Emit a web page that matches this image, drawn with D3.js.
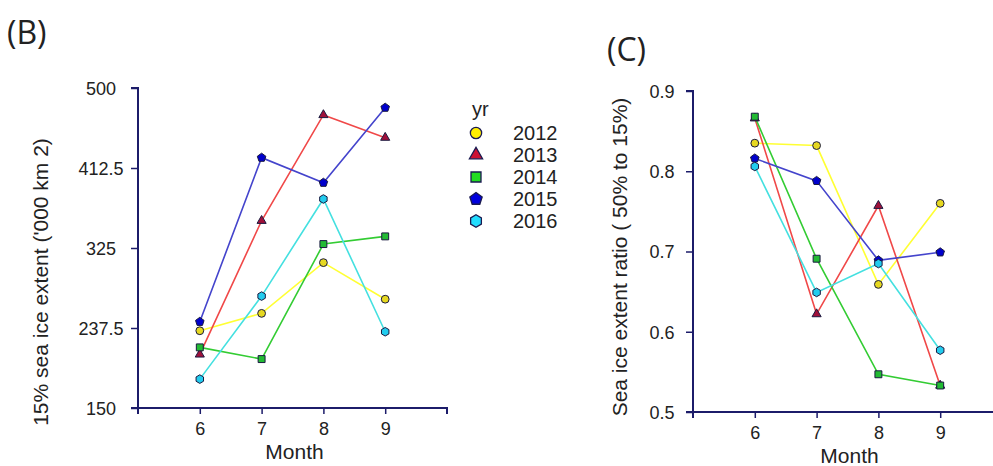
<!DOCTYPE html>
<html><head><meta charset="utf-8">
<script src="https://cdn.jsdelivr.net/npm/d3@7"></script>
<style>body{margin:0;background:#fff}svg{display:block}text{font-family:"Liberation Sans",Arial,sans-serif;fill:#222}</style>
</head><body><svg id="c" width="993" height="466"></svg>
<script>
const months = [6, 7, 8, 9];
const years = ["2012", "2013", "2014", "2015", "2016"];
const extentB = {
  "2012": [234.5, 253.5, 309, 269],
  "2013": [208.6, 354.8, 470.5, 445.7],
  "2014": [216.3, 203.5, 329.3, 337.7],
  "2015": [244.3, 423.8, 396.4, 478.5],
  "2016": [181.6, 272.4, 378.6, 233.4]
};
const ratioC = {
  "2012": [0.835, 0.832, 0.659, 0.760],
  "2013": [0.866, 0.622, 0.757, 0.533],
  "2014": [0.868, 0.691, 0.547, 0.533],
  "2015": [0.816, 0.788, 0.689, 0.699],
  "2016": [0.806, 0.649, 0.685, 0.577]
};
const ticksB = [150, 237.5, 325, 412.5, 500];
const ticksC = [0.5, 0.6, 0.7, 0.8, 0.9];

const lineColor = {"2012":"#ffff33","2013":"#f04848","2014":"#33cc33","2015":"#4444cc","2016":"#44e0e0"};
const markFill = {"2012":"#e6d820","2013":"#a0103a","2014":"#22bb33","2015":"#0000cc","2016":"#22ccee"};
const legFill = {"2012":"#ffee00","2013":"#cc1133","2014":"#22dd22","2015":"#0000dd","2016":"#22ddff"};

function polygon(n, rot){
  return {draw(ctx, size){
    const r = Math.sqrt(size/ (n*0.5*Math.sin(2*Math.PI/n)));
    for(let i=0;i<n;i++){const a=rot+i*2*Math.PI/n;const x=r*Math.sin(a),y=-r*Math.cos(a);i?ctx.lineTo(x,y):ctx.moveTo(x,y);}
    ctx.closePath();}};
}
const shapes = {"2012":d3.symbolCircle,"2013":d3.symbolTriangle,"2014":d3.symbolSquare,"2015":polygon(5,0),"2016":polygon(6,0)};

const svg = d3.select("#c");
const axisCol = "#1c1c6a";

function panel(cfg){
  const x = d3.scaleLinear().domain([5,10]).range([cfg.x0, cfg.x0 + 309]);
  const y = d3.scaleLinear().domain(cfg.dom).range([cfg.yb, cfg.yt]);
  const g = svg.append("g");
  const ya = g.append("g").attr("transform",`translate(${cfg.x0},0)`).call(d3.axisLeft(y).tickValues(cfg.ticks).tickSize(7).tickFormat(d=>d));
  const xa = g.append("g").attr("transform",`translate(0,${cfg.yb})`).call(d3.axisBottom(x).tickValues(months).tickSize(6).tickFormat(d=>d));
  [ya,xa].forEach(a=>{a.select(".domain").attr("stroke",axisCol).attr("stroke-width",2);
    a.selectAll(".tick line").attr("stroke",axisCol).attr("stroke-width",1.5);
    a.selectAll("text").attr("fill","#222").style("font-size","18px").style("font-family","Liberation Sans, Arial, sans-serif");});
  xa.select(".domain").attr("d",`M${x(5)},6V0H${x(10)}V6`);
  ya.select(".domain").attr("d",`M-7,${y(cfg.dom[1])}H0V${cfg.yb}H-7`);
  ya.selectAll(".tick text").attr("text-anchor","middle").attr("x",cfg.labX - cfg.x0).attr("dy","0.35em");
  xa.selectAll(".tick text").attr("y",14);
  const line = d3.line().x((d,i)=>x(months[i])).y(d=>y(d));
  years.forEach(yr=>{
    g.append("path").attr("d",line(cfg.data[yr])).attr("fill","none").attr("stroke",lineColor[yr]).attr("stroke-width",1.6);
  });
  years.forEach(yr=>{
    g.selectAll(null).data(cfg.data[yr]).join("path")
      .attr("transform",(d,i)=>`translate(${x(months[i])},${y(d)})`)
      .attr("d",d3.symbol().type(shapes[yr]).size(yr==="2013"?36:48))
      .attr("fill",markFill[yr]).attr("stroke","#1a1a40").attr("stroke-width",1);
  });
  g.append("text").attr("x",x(7.5)+2).attr("y",cfg.yb+51).attr("text-anchor","middle").style("font-size","21px").text("Month");
  g.append("text").attr("transform",`translate(${cfg.ylabX},${cfg.ylabY}) rotate(-90)`).attr("text-anchor","middle").style("font-size","21px").text(cfg.ylab);
  g.append("text").attr("x",cfg.tx).attr("y",cfg.ty).style("font-size","32px").style("font-family","Open Sans, Liberation Sans, sans-serif").text(cfg.title);
}

panel({x0:138, yt:88, yb:408, dom:[150,500], ticks:ticksB, data:extentB, labX:101,
  ylab:"15% sea ice extent ('000 km 2)", ylabX:48, ylabY:282, title:"(B)", tx:7, ty:44});
panel({x0:693, yt:91, yb:412, dom:[0.5,0.9], ticks:ticksC, data:ratioC, labX:662,
  ylab:"Sea ice extent ratio ( 50% to 15%)", ylabX:627, ylabY:257, title:"(C)", tx:607, ty:61});

const lg = svg.append("g");
lg.append("text").attr("x",472).attr("y",116).style("font-size","20px").text("yr");
years.forEach((yr,i)=>{
  const cy = 133 + i*22;
  lg.append("path").attr("transform",`translate(476,${cy})`)
    .attr("d",d3.symbol().type(shapes[yr]).size(yr==="2013"?75:100))
    .attr("fill",legFill[yr]).attr("stroke","#1a1a50").attr("stroke-width",1.3);
  lg.append("text").attr("x",513).attr("y",cy+7).style("font-size","20px").text(yr);
});
</script></body></html>
